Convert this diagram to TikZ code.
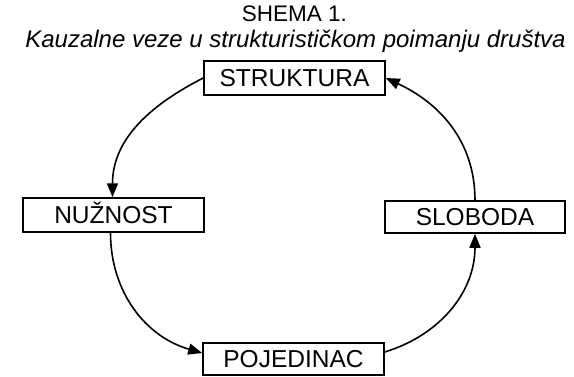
\documentclass[tikz,border=0pt]{standalone}
\usepackage{fontspec}
\setmainfont{Liberation Sans}
\usetikzlibrary{arrows.meta}
\begin{document}
\begin{tikzpicture}[
  x=1pt,y=1pt,
  box/.style={draw,line width=1.5pt,minimum width=181pt,minimum height=34pt,inner sep=0pt,
    font=\fontsize{24.5}{28}\selectfont,text height=17.5pt,text depth=0pt},
  arr/.style={line width=1.6pt,-{Triangle[length=14pt,width=11pt]}},
  ttl/.style={anchor=base,inner sep=0pt}
]
\useasboundingbox (0,0) rectangle (574,-376);
\node[ttl,font=\fontsize{22.5}{26}\selectfont] (t1) at (294.5,-21) {SHEMA 1.};
\node[ttl,font=\fontsize{24}{28}\selectfont\itshape] (t2) at (295.5,-47) {Kauzalne veze u strukturističkom poimanju društva};
\node[box] (str) at (294.5,-78) {STRUKTURA};
\node[box] (nuz) at (113.5,-215) {NUŽNOST};
\node[box,minimum width=180pt,minimum height=32pt] (slo) at (475,-217) {SLOBODA};
\node[box,minimum width=181pt,minimum height=32pt] (poj) at (293.5,-359) {POJEDINAC};
\draw[arr] (str.west) to[out=207,in=90] ([xshift=-1pt]nuz.north);
\draw[arr] ([xshift=-3pt]nuz.south) to[out=-90,in=164] ([yshift=6pt]poj.west);
\draw[arr] ([yshift=7pt]poj.east) to[out=17,in=-90] (slo.south);
\draw[arr] (slo.north) to[out=90,in=-25] (str.east);
\end{tikzpicture}
\end{document}
